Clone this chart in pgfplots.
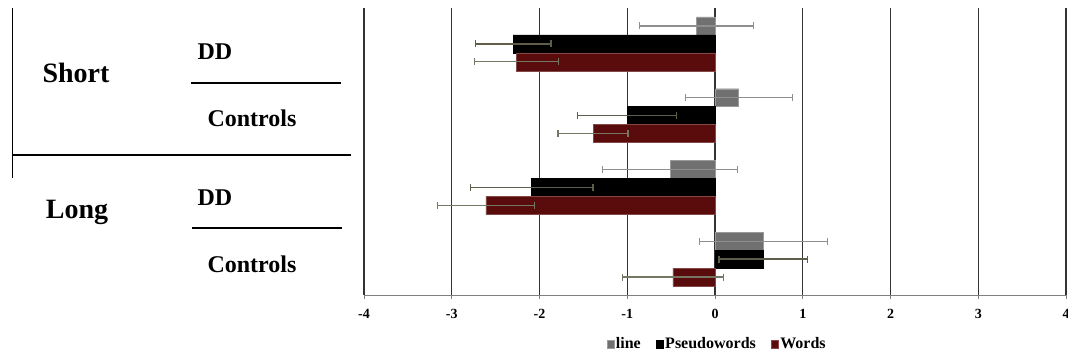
\documentclass[border=0pt]{standalone}
\usepackage{pgfplots}
\pgfplotsset{compat=1.18}
\usepackage{fontspec}
\setmainfont{Liberation Serif}
\definecolor{lineC}{HTML}{707070}
\definecolor{wordsC}{HTML}{5A0B0B}
\definecolor{errD}{HTML}{5E5E4A}
\definecolor{errL}{HTML}{8E8E8E}
\begin{document}
\begin{tikzpicture}[x=1pt,y=1pt]
\path[use as bounding box] (0,0) rectangle (1068,357);
% left category annotations
\draw[black, line width=1.4pt] (12.5,349) -- (12.5,179);
\draw[black, line width=2.2pt] (12.5,202) -- (351,202);
\draw[black, line width=2.2pt] (191,274) -- (341,274);
\draw[black, line width=2.2pt] (192,129) -- (342,129);
\node[anchor=base, inner sep=0pt, font=\fontsize{28}{30}\selectfont\bfseries] at (76,275) {Short};
\node[anchor=base, inner sep=0pt, font=\fontsize{28}{30}\selectfont\bfseries] at (77,139) {Long};
\node[anchor=base, inner sep=0pt, font=\fontsize{24}{26}\selectfont\bfseries] at (215,298) {DD};
\node[anchor=base, inner sep=0pt, font=\fontsize{24}{26}\selectfont\bfseries] at (215,152) {DD};
\node[anchor=base, inner sep=0pt, font=\fontsize{24}{26}\selectfont\bfseries] at (252,231) {Controls};
\node[anchor=base, inner sep=0pt, font=\fontsize{24}{26}\selectfont\bfseries] at (252,85) {Controls};
\begin{axis}[
  at={(364pt,62pt)}, anchor=south west, scale only axis,
  width=702pt, height=287pt,
  xmin=-4, xmax=4, ymin=-0.5, ymax=3.5, y dir=reverse,
  axis x line*=bottom, axis y line=none,
  xtick={-4,-3,-2,-1,0,1,2,3,4}, ytick=\empty,
  xmajorgrids, grid style={draw=black!80, line width=1.2pt},
  x axis line style={draw=black!50, line width=1pt},
  xtick style={draw=black!50, line width=0.8pt},
  tick align=outside, major tick length=4pt,
  /pgf/number format/assume math mode=true,
  xticklabel style={font=\fontsize{14}{16}\selectfont\bfseries, yshift=-7pt},
  xbar, bar width=0.25,
  legend style={at={(0.503,-0.171)}, anchor=center, draw=none, fill=none,
    legend columns=3, font=\fontsize{16}{18}\selectfont\bfseries,
    /tikz/every even column/.append style={column sep=14pt},
    nodes={inner sep=1.5pt}},
  legend image code/.code={\fill[#1] (0pt,-4pt) rectangle (7pt,4pt);},
]
\addplot[fill=lineC, draw=lineC!70!white, bar shift=-0.25,
  error bars/.cd, x dir=both, x explicit, error mark=|,
  error bar style={errL, line width=1.3pt},
  error mark options={errL, mark size=3.5pt, line width=1.3pt}]
  coordinates {(-0.21,0) +- (0.65,0) (0.27,1) +- (0.61,0) (-0.51,2) +- (0.77,0) (0.55,3) +- (0.73,0)};
\addplot[fill=black, draw=black, bar shift=0,
  error bars/.cd, x dir=both, x explicit, error mark=|,
  error bar style={errD, line width=1.3pt},
  error mark options={errD, mark size=3.5pt, line width=1.3pt}]
  coordinates {(-2.30,0) +- (0.43,0) (-1.00,1) +- (0.565,0) (-2.09,2) +- (0.70,0) (0.55,3) +- (0.505,0)};
\addplot[fill=wordsC, draw=wordsC!75!white, bar shift=0.25,
  error bars/.cd, x dir=both, x explicit, error mark=|,
  error bar style={errD!85!white, line width=1.3pt},
  error mark options={errD!85!white, mark size=3.5pt, line width=1.3pt}]
  coordinates {(-2.26,0) +- (0.48,0) (-1.39,1) +- (0.40,0) (-2.61,2) +- (0.55,0) (-0.48,3) +- (0.575,0)};
\legend{line,Pseudowords,Words}
\end{axis}
\end{tikzpicture}
\end{document}
